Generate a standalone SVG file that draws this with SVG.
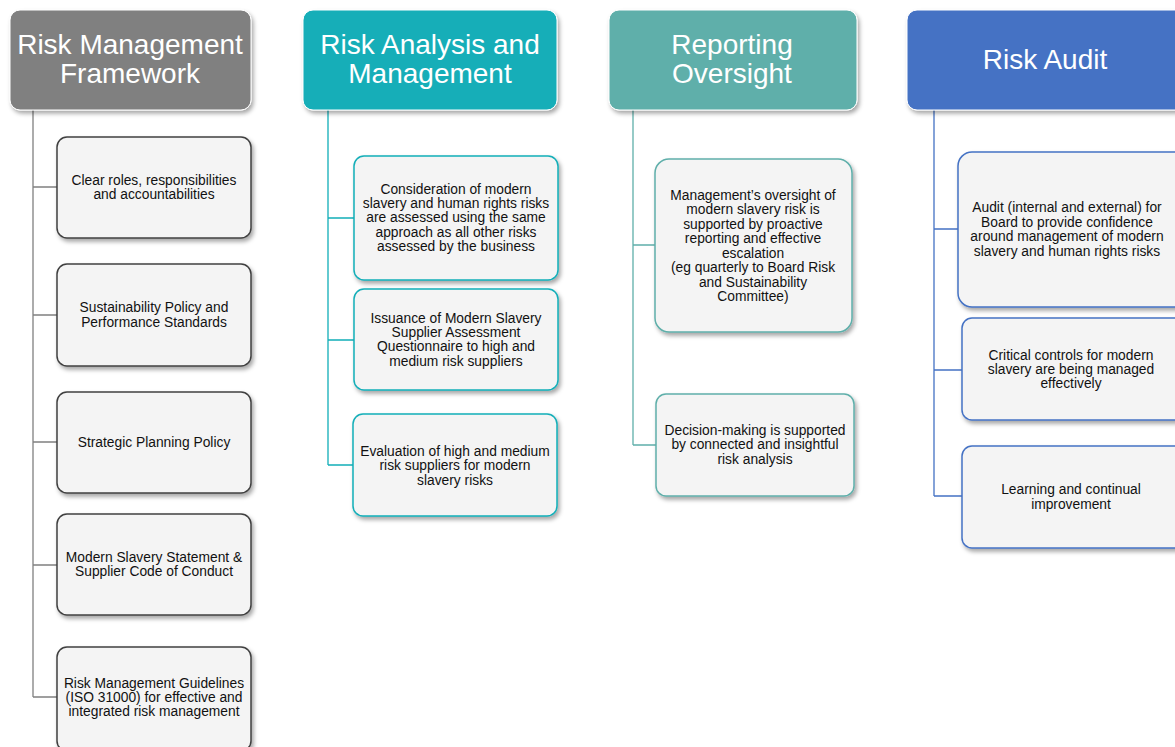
<svg xmlns="http://www.w3.org/2000/svg" width="1175" height="747" viewBox="0 0 1175 747">
<defs>
<filter id="sh" x="-10%" y="-10%" width="130%" height="130%"><feDropShadow dx="2" dy="3" stdDeviation="2" flood-color="#000" flood-opacity="0.35"/></filter>
<style>
.hd{font-family:"Liberation Sans",Arial,sans-serif;font-size:28px;fill:#fff;text-anchor:middle}
.bt{font-family:"Liberation Sans",Arial,sans-serif;font-size:13.8px;fill:#111;text-anchor:middle}
.box{fill:#f4f4f4;stroke-width:1.5;filter:url(#sh)}
.c1{stroke:#404040}.c2{stroke:#12aeb8}.c3{stroke:#5fafaa}.c4{stroke:#4472c4}
.ln{fill:none;stroke-width:1.3}
</style>
</defs>
<g id="connectors">
<path class="ln" stroke="#808080" d="M33 110V697M33 187H57M33 315H57M33 442H57M33 565H57M33 697H57"/>
<path class="ln" stroke="#12aeb8" d="M328 110V465M328 218H354M328 340H354M328 465H353"/>
<path class="ln" stroke="#5fafaa" d="M633 110V445M633 245H655M633 445H656"/>
<path class="ln" stroke="#4472c4" d="M934 110V496M934 229H958M934 370H962M934 496H962"/>
</g>
<g id="h1"><rect x="10" y="10" width="241" height="100" rx="10" fill="#808080" stroke="#fff" stroke-width="1" filter="url(#sh)"/><text class="hd" x="130" y="54">Risk Management</text><text class="hd" x="130" y="83">Framework</text></g>
<g id="h2"><rect x="303" y="10" width="254" height="100" rx="10" fill="#12aeb8" stroke="#fff" stroke-width="1" filter="url(#sh)"/><text class="hd" x="430" y="54">Risk Analysis and</text><text class="hd" x="430" y="83">Management</text></g>
<g id="h3"><rect x="609" y="10" width="248" height="100" rx="10" fill="#5fafaa" stroke="#fff" stroke-width="1" filter="url(#sh)"/><text class="hd" x="732" y="54">Reporting</text><text class="hd" x="732" y="83">Oversight</text></g>
<g id="h4"><rect x="907" y="10" width="290" height="100" rx="10" fill="#4472c4" stroke="#fff" stroke-width="1" filter="url(#sh)"/><text class="hd" x="1045" y="69">Risk Audit</text></g>

<g id="n1"><rect class="box c1" x="57" y="137" width="194" height="101" rx="10"/><text class="bt" x="154" y="185">Clear roles, responsibilities</text><text class="bt" x="154" y="199">and accountabilities</text></g>
<g id="n2"><rect class="box c1" x="57" y="264" width="194" height="102" rx="10"/><text class="bt" x="154" y="312">Sustainability Policy and</text><text class="bt" x="154" y="327">Performance Standards</text></g>
<g id="n3"><rect class="box c1" x="57" y="392" width="194" height="101" rx="10"/><text class="bt" x="154" y="447">Strategic Planning Policy</text></g>
<g id="n4"><rect class="box c1" x="57" y="514" width="194" height="101" rx="10"/><text class="bt" x="154" y="562">Modern Slavery Statement &amp;</text><text class="bt" x="154" y="576">Supplier Code of Conduct</text></g>
<g id="n5"><rect class="box c1" x="57" y="647" width="194" height="104" rx="10"/><text class="bt" x="154" y="688">Risk Management Guidelines</text><text class="bt" x="154" y="702">(ISO 31000) for effective and</text><text class="bt" x="154" y="716">integrated risk management</text></g>

<g id="n6"><rect class="box c2" x="354" y="156" width="204" height="124" rx="10"/><text class="bt" x="456" y="194">Consideration of modern</text><text class="bt" x="456" y="208">slavery and human rights risks</text><text class="bt" x="456" y="222">are assessed using the same</text><text class="bt" x="456" y="237">approach as all other risks</text><text class="bt" x="456" y="251">assessed by the business</text></g>
<g id="n7"><rect class="box c2" x="354" y="289" width="204" height="101" rx="10"/><text class="bt" x="456" y="323">Issuance of Modern Slavery</text><text class="bt" x="456" y="337">Supplier Assessment</text><text class="bt" x="456" y="351">Questionnaire to high and</text><text class="bt" x="456" y="366">medium risk suppliers</text></g>
<g id="n8"><rect class="box c2" x="353" y="414" width="204" height="102" rx="10"/><text class="bt" x="455" y="456">Evaluation of high and medium</text><text class="bt" x="455" y="470">risk suppliers for modern</text><text class="bt" x="455" y="485">slavery risks</text></g>

<g id="n9"><rect class="box c3" x="655" y="159" width="197" height="173" rx="14"/><text class="bt" x="753" y="200">Management’s oversight of</text><text class="bt" x="753" y="214">modern slavery risk is</text><text class="bt" x="753" y="229">supported by proactive</text><text class="bt" x="753" y="243">reporting and effective</text><text class="bt" x="753" y="258">escalation</text><text class="bt" x="753" y="272">(eg quarterly to Board Risk</text><text class="bt" x="753" y="287">and Sustainability</text><text class="bt" x="753" y="301">Committee)</text></g>
<g id="n10"><rect class="box c3" x="656" y="394" width="198" height="102" rx="10"/><text class="bt" x="755" y="435">Decision-making is supported</text><text class="bt" x="755" y="449">by connected and insightful</text><text class="bt" x="755" y="464">risk analysis</text></g>

<g id="n11"><rect class="box c4" x="958" y="152" width="240" height="155" rx="14"/><text class="bt" x="1067" y="212">Audit (internal and external) for</text><text class="bt" x="1067" y="227">Board to provide confidence</text><text class="bt" x="1067" y="241">around management of modern</text><text class="bt" x="1067" y="256">slavery and human rights risks</text></g>
<g id="n12"><rect class="box c4" x="962" y="318" width="236" height="102" rx="10"/><text class="bt" x="1071" y="360">Critical controls for modern</text><text class="bt" x="1071" y="374">slavery are being managed</text><text class="bt" x="1071" y="388">effectively</text></g>
<g id="n13"><rect class="box c4" x="962" y="446" width="236" height="102" rx="10"/><text class="bt" x="1071" y="494">Learning and continual</text><text class="bt" x="1071" y="509">improvement</text></g>
</svg>
